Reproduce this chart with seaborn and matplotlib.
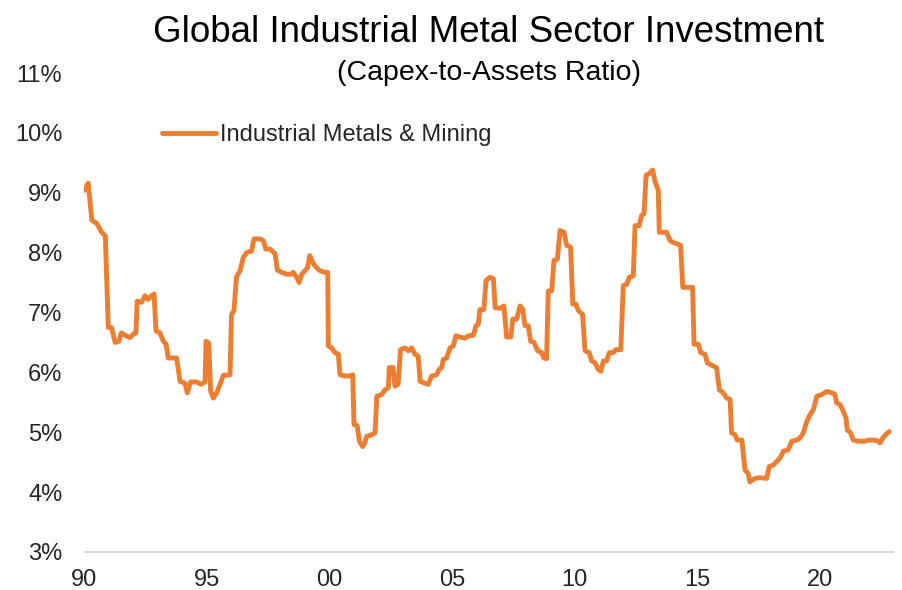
import matplotlib
matplotlib.use("Agg")
import matplotlib.pyplot as plt
import seaborn as sns
import pandas as pd

# Capex-to-assets ratio (%) of the industrial metals & mining sector, by decimal year
year = [
    1990.00, 1990.15, 1990.30, 1990.50, 1990.70, 1990.85, 1990.97, 1991.10, 1991.25, 1991.40,
    1991.50, 1991.70, 1991.85, 1992.00, 1992.10, 1992.15, 1992.33, 1992.47, 1992.60, 1992.74,
    1992.84, 1992.92, 1993.08, 1993.22, 1993.33, 1993.42, 1993.76, 1993.90, 1994.10, 1994.20,
    1994.33, 1994.58, 1994.74, 1994.92, 1994.96, 1995.07, 1995.15, 1995.26, 1995.40, 1995.53,
    1995.67, 1995.94, 1996.00, 1996.10, 1996.20, 1996.35, 1996.48, 1996.62, 1996.82, 1996.92,
    1997.16, 1997.30, 1997.40, 1997.57, 1997.78, 1997.87, 1998.05, 1998.25, 1998.46, 1998.52,
    1998.66, 1998.76, 1998.87, 1999.00, 1999.10, 1999.20, 1999.27, 1999.40, 1999.60, 1999.82,
    1999.93, 1999.95, 2000.09, 2000.22, 2000.36, 2000.43, 2000.63, 2000.84, 2000.95, 2001.00,
    2001.13, 2001.22, 2001.35, 2001.44, 2001.52, 2001.72, 2001.86, 2001.93, 2002.13, 2002.27,
    2002.40, 2002.44, 2002.60, 2002.67, 2002.80, 2002.90, 2003.08, 2003.22, 2003.35, 2003.49,
    2003.62, 2003.70, 2003.90, 2004.03, 2004.17, 2004.37, 2004.48, 2004.58, 2004.64, 2004.78,
    2004.92, 2005.05, 2005.16, 2005.33, 2005.53, 2005.67, 2005.87, 2005.98, 2006.07, 2006.14,
    2006.30, 2006.39, 2006.55, 2006.69, 2006.76, 2006.96, 2007.12, 2007.23, 2007.40, 2007.48,
    2007.64, 2007.78, 2007.89, 2007.98, 2008.11, 2008.21, 2008.35, 2008.50, 2008.66, 2008.75,
    2008.86, 2008.93, 2009.07, 2009.16, 2009.30, 2009.41, 2009.57, 2009.68, 2009.84, 2009.93,
    2010.06, 2010.16, 2010.33, 2010.43, 2010.60, 2010.70, 2010.84, 2010.97, 2011.07, 2011.18,
    2011.31, 2011.42, 2011.58, 2011.69, 2011.89, 2011.99, 2012.13, 2012.24, 2012.40, 2012.47,
    2012.64, 2012.74, 2012.84, 2012.92, 2013.05, 2013.19, 2013.29, 2013.42, 2013.46, 2013.76,
    2013.90, 2014.03, 2014.17, 2014.33, 2014.42, 2014.82, 2014.88, 2015.05, 2015.15, 2015.33,
    2015.42, 2015.60, 2015.80, 2015.91, 2016.07, 2016.21, 2016.35, 2016.41, 2016.55, 2016.64,
    2016.83, 2016.96, 2017.09, 2017.16, 2017.37, 2017.57, 2017.84, 2017.95, 2018.11, 2018.25,
    2018.39, 2018.52, 2018.73, 2018.87, 2019.07, 2019.20, 2019.34, 2019.48, 2019.61, 2019.75,
    2019.89, 2020.09, 2020.30, 2020.50, 2020.63, 2020.70, 2020.84, 2020.97, 2021.08, 2021.13,
    2021.27, 2021.38, 2021.58, 2021.86, 2021.99, 2022.20, 2022.36, 2022.47, 2022.58, 2022.70,
    2022.84,
]
ratio = [
    9.04, 9.16, 8.54, 8.49, 8.34, 8.28, 6.75, 6.75, 6.50, 6.52,
    6.66, 6.61, 6.58, 6.64, 6.66, 7.19, 7.17, 7.28, 7.22, 7.28,
    7.31, 6.69, 6.66, 6.52, 6.47, 6.24, 6.24, 5.85, 5.82, 5.66,
    5.84, 5.84, 5.80, 5.84, 6.52, 6.49, 5.68, 5.57, 5.66, 5.80,
    5.95, 5.96, 6.97, 7.03, 7.59, 7.70, 7.92, 8.00, 8.03, 8.23,
    8.23, 8.20, 8.06, 8.06, 7.98, 7.71, 7.67, 7.64, 7.64, 7.67,
    7.59, 7.50, 7.64, 7.70, 7.75, 7.95, 7.87, 7.78, 7.70, 7.67,
    7.67, 6.44, 6.41, 6.33, 6.30, 5.96, 5.94, 5.94, 5.96, 5.13,
    5.11, 4.85, 4.76, 4.82, 4.93, 4.96, 4.99, 5.60, 5.63, 5.71,
    5.74, 6.08, 6.08, 5.77, 5.80, 6.38, 6.41, 6.36, 6.41, 6.30,
    6.27, 5.85, 5.82, 5.80, 5.94, 5.96, 6.05, 6.08, 6.21, 6.24,
    6.41, 6.44, 6.61, 6.59, 6.57, 6.61, 6.62, 6.78, 6.80, 7.05,
    7.05, 7.53, 7.59, 7.56, 7.08, 7.07, 7.11, 6.59, 6.59, 6.89,
    6.89, 7.11, 7.05, 6.78, 6.78, 6.52, 6.50, 6.36, 6.33, 6.24,
    6.23, 7.36, 7.36, 7.87, 7.89, 8.37, 8.34, 8.12, 8.09, 7.14,
    7.14, 7.03, 6.97, 6.36, 6.33, 6.19, 6.16, 6.05, 6.02, 6.19,
    6.19, 6.33, 6.33, 6.38, 6.38, 7.45, 7.47, 7.59, 7.61, 8.45,
    8.45, 8.62, 8.65, 9.29, 9.32, 9.38, 9.18, 9.04, 8.34, 8.34,
    8.20, 8.17, 8.15, 8.12, 7.42, 7.42, 6.47, 6.47, 6.33, 6.30,
    6.16, 6.12, 6.08, 5.71, 5.66, 5.57, 5.55, 4.99, 4.96, 4.87,
    4.87, 4.37, 4.31, 4.17, 4.23, 4.24, 4.23, 4.43, 4.45, 4.51,
    4.57, 4.68, 4.71, 4.85, 4.87, 4.90, 4.99, 5.18, 5.29, 5.38,
    5.60, 5.63, 5.68, 5.66, 5.63, 5.49, 5.46, 5.35, 5.24, 5.04,
    4.99, 4.87, 4.85, 4.85, 4.87, 4.87, 4.86, 4.82, 4.90, 4.96,
    5.01,
]

x_ticks = [1990, 1995, 2000, 2005, 2010, 2015, 2020]
x_tick_labels = ["90", "95", "00", "05", "10", "15", "20"]
y_ticks = [3, 4, 5, 6, 7, 8, 9, 10, 11]
y_tick_labels = [f"{v}%" for v in y_ticks]

series_name = "Industrial Metals & Mining"
df = pd.DataFrame({"year": year, "ratio": ratio})

sns.set_style("white")
plt.rcParams["font.family"] = ["Liberation Sans", "DejaVu Sans"]

W, H = 903, 590
fig = plt.figure(figsize=(W / 100, H / 100), dpi=100)
left_px, right_px, top_px, bottom_px = 84.5, 893, 73, 552
ax = fig.add_axes([left_px / W, 1 - bottom_px / H,
                   (right_px - left_px) / W, (bottom_px - top_px) / H])

orange = "#ED7D31"
sns.lineplot(data=df, x="year", y="ratio", color=orange, linewidth=3.5,
             label=series_name, ax=ax, solid_joinstyle="round")

ax.set_xlim(1990, 2023)
ax.set_ylim(3, 11)
ax.set_xticks(x_ticks)
ax.set_xticklabels(x_tick_labels)
ax.set_yticks(y_ticks)
ax.set_yticklabels(y_tick_labels)
ax.set_xlabel("")
ax.set_ylabel("")

for side in ("top", "right", "left"):
    ax.spines[side].set_visible(False)
ax.spines["bottom"].set_color("#D9D9D9")
ax.spines["bottom"].set_linewidth(1.5)

text_color = "#262626"
ax.tick_params(axis="y", length=0, pad=16, labelsize=17, labelcolor=text_color)
ax.tick_params(axis="x", length=6, width=1.5, color="#D9D9D9", pad=6,
               labelsize=17, labelcolor=text_color)

ax.legend(loc="center left", bbox_to_anchor=(162 / W, 1 - 135 / H),
          bbox_transform=fig.transFigure, frameon=False, fontsize=17,
          handlelength=2.3, handletextpad=0.15, borderpad=0, borderaxespad=0,
          labelcolor=text_color)

center_x = (left_px + right_px) / 2 / W
fig.text(center_x, 1 - 33 / H, "Global Industrial Metal Sector Investment",
         ha="center", va="center", fontsize=26.5, color="#000000")
fig.text(center_x, 1 - 73 / H, "(Capex-to-Assets Ratio)",
         ha="center", va="center", fontsize=20.5, color="#000000")

fig.savefig("out.png", dpi=100, facecolor="white")
